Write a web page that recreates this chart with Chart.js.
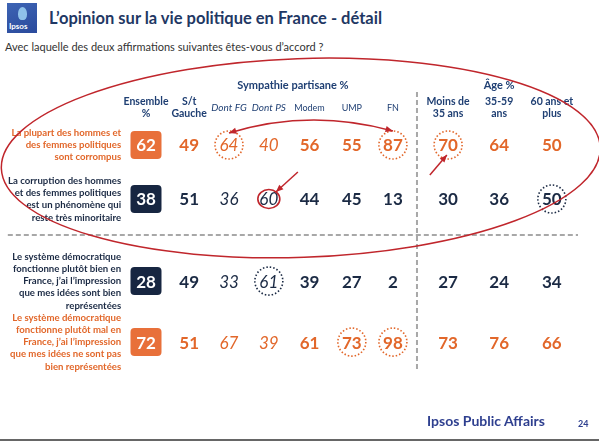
<!DOCTYPE html>
<html lang="fr">
<head>
<meta charset="UTF-8" />
<title>L'opinion sur la vie politique en France - détail</title>
<script src="https://cdn.jsdelivr.net/npm/chart.js@4.4.0/dist/chart.umd.min.js"></script>
<style>
  body { margin: 0; background: #fff; font-family: Lato, "Open Sans", sans-serif; }
  #slide { position: relative; width: 599px; height: 446px; overflow: hidden; background: #fff; }
  #logo { position: absolute; left: 7px; top: 3px; width: 30px; height: 30px;
          background: linear-gradient(160deg, #3d64b4, #2a4a9c); }
  #logo .blob { position: absolute; left: 11px; top: 4px; width: 9px; height: 13px;
          background: #8fc2ea; border-radius: 50% 50% 40% 40%; }
  #logo span { position: absolute; left: 2px; bottom: 2px; color: #fff; font-size: 8px; font-weight: bold; }
  #title { position: absolute; left: 49px; top: 8px; font-size: 16.5px; font-weight: bold; color: #1f3864; }
  #subtitle { position: absolute; left: 5px; top: 40px; font-size: 11px; color: #333; }
  #footer { position: absolute; left: 427px; top: 412px; font-size: 14px; font-weight: bold; color: #2e3f8f; }
  #page { position: absolute; left: 578px; top: 418px; font-size: 9px; font-weight: bold; color: #2e3f8f; }
  #rule { position: absolute; left: 0; top: 439px; width: 599px; height: 2px; background: #666; }
  canvas { position: absolute; left: 0; top: 0; }
</style>
</head>
<body>
<div id="slide">
  <div id="logo"><div class="blob"></div><span>Ipsos</span></div>
  <div id="title">L’opinion sur la vie politique en France - détail</div>
  <div id="subtitle">Avec laquelle des deux affirmations suivantes êtes-vous d’accord ?</div>
  <canvas id="tableChart" width="599" height="446"></canvas>
  <div id="footer">Ipsos Public Affairs</div>
  <div id="page">24</div>
  <div id="rule"></div>
</div>
<script>
// Colonnes et valeurs (%)
const columns = ['Ensemble %', 'S/t Gauche', 'Dont FG', 'Dont PS', 'Modem', 'UMP', 'FN',
                 'Moins de 35 ans', '35-59 ans', '60 ans et plus'];
const corrompus   = [62, 49, 64, 40, 56, 55, 87, 70, 64, 50];
const minoritaire = [38, 51, 36, 60, 44, 45, 13, 30, 36, 50];
const fonctionneBien = [28, 49, 33, 61, 39, 27, 2, 27, 24, 34];
const fonctionneMal  = [72, 51, 67, 39, 61, 73, 98, 73, 76, 66];

const rowLabels = [
  ['La plupart des hommes et', 'des femmes politiques', 'sont corrompus'],
  ['La corruption des hommes', 'et des femmes politiques', 'est un phénomène qui', 'reste très minoritaire'],
  ['Le système démocratique', 'fonctionne plutôt bien en', 'France, j’ai l’impression', 'que mes idées sont bien', 'représentées'],
  ['Le système démocratique', 'fonctionne plutôt mal en', 'France, j’ai l’impression', 'que mes idées ne sont pas', 'bien représentées']
];
const colHeaders = [['Ensemble', '%'], ['S/t', 'Gauche'], ['Dont FG'], ['Dont PS'], ['Modem'], ['UMP'], ['FN'],
                    ['Moins de', '35 ans'], ['35-59', 'ans'], ['60 ans et', 'plus']];

// mise en page (unités des échelles)
const colPos = [0, 1.04, 2, 2.96, 3.94, 4.96, 5.95, 7.28, 8.51, 9.78];
const rowPos = [0, 1, 2.52, 3.65];

const ORANGE = '#e2672a';
const NAVY = '#1b2a44';
const BLUE = '#1f3f73';
const RED = '#c0262c';
const rowColors = [ORANGE, NAVY, NAVY, ORANGE];

// cercles de mise en évidence [ligne, colonne, couleur, pointillé]
const highlights = [
  [0, 2, ORANGE, true], [0, 6, ORANGE, true], [0, 7, ORANGE, true],
  [1, 3, RED, false], [1, 9, NAVY, true], [2, 3, NAVY, true],
  [3, 5, ORANGE, true], [3, 6, ORANGE, true]
];

const rows = [corrompus, minoritaire, fonctionneBien, fonctionneMal];

const tablePlugin = {
  id: 'tablePlugin',
  afterDatasetsDraw(chart) {
    const ctx = chart.ctx;
    const xs = chart.scales.x, ys = chart.scales.y;
    const px = u => xs.getPixelForValue(u);
    const py = v => ys.getPixelForValue(v);
    ctx.save();

    // séparateurs
    ctx.strokeStyle = '#a8a8a8';
    ctx.lineWidth = 2;
    ctx.setLineDash([5, 3]);
    ctx.beginPath();
    ctx.moveTo(px(-3.33), py(1.667)); ctx.lineTo(px(10.41), py(1.667));
    ctx.moveTo(px(6.53), py(-0.98)); ctx.lineTo(px(6.53), py(4.17));
    ctx.stroke();
    ctx.setLineDash([]);

    // en-têtes
    ctx.textAlign = 'center';
    ctx.textBaseline = 'middle';
    ctx.fillStyle = BLUE;
    ctx.font = 'bold 11px Lato';
    ctx.fillText('Sympathie partisane %', px(3.54), py(-1.11));
    ctx.fillText('Âge %', px(8.51), py(-1.11));
    colHeaders.forEach((lines, j) => {
      if (j === 2 || j === 3) ctx.font = 'italic 10px Lato';
      else if (j >= 4 && j <= 6) ctx.font = '9px Lato';
      else ctx.font = 'bold 10.5px Lato';
      const yc = py(-0.685);
      lines.forEach((t, k) => {
        ctx.fillText(t, px(colPos[j]), yc + (k - (lines.length - 1) / 2) * 12);
      });
    });

    // libellés des lignes
    ctx.textAlign = 'right';
    ctx.font = 'bold 9.6px Lato';
    rowLabels.forEach((lines, i) => {
      ctx.fillStyle = rowColors[i];
      const yc = py(rowPos[i]);
      lines.forEach((t, k) => {
        ctx.fillText(t, px(-0.6), yc + (k - (lines.length - 1) / 2) * 12.3);
      });
    });

    // valeurs
    ctx.textAlign = 'center';
    chart.data.datasets.forEach((ds, i) => {
      const meta = chart.getDatasetMeta(i);
      meta.data.forEach((pt, j) => {
        const v = ds.data[j].v;
        if (j === 0) {
          ctx.fillStyle = rowColors[i] === ORANGE ? '#e8703a' : '#172641';
          ctx.beginPath();
          ctx.roundRect(pt.x - 15.5, pt.y - 14, 31, 28, 4);
          ctx.fill();
          ctx.fillStyle = '#fff';
          ctx.font = 'bold 17px Lato';
        } else {
          ctx.fillStyle = rowColors[i];
          ctx.font = (j === 2 || j === 3) ? 'italic 17px Lato' : 'bold 17px Lato';
        }
        ctx.fillText(String(v), pt.x, pt.y + 1);
      });
    });

    // cercles
    highlights.forEach(([r, c, col, dotted]) => {
      const pt = chart.getDatasetMeta(r).data[c];
      ctx.strokeStyle = col;
      ctx.lineWidth = 1.6;
      ctx.beginPath();
      if (dotted) {
        ctx.setLineDash([1.5, 2]);
        ctx.arc(pt.x, pt.y, 14, 0, Math.PI * 2);
      } else {
        ctx.setLineDash([]);
        ctx.ellipse(pt.x, pt.y, 11, 9.5, 0, 0, Math.PI * 2);
      }
      ctx.stroke();
    });
    ctx.setLineDash([]);

    // ellipse rouge
    ctx.strokeStyle = RED;
    ctx.lineWidth = 1.5;
    ctx.beginPath();
    ctx.ellipse(px(3.73), py(0.24), px(7.22) - px(0), py(1.84) - py(0), -0.035, 0, Math.PI * 2);
    ctx.stroke();

    // flèches
    const head = (x, y, ang) => {
      ctx.beginPath();
      ctx.moveTo(x, y);
      ctx.lineTo(x - 8 * Math.cos(ang - 0.4), y - 8 * Math.sin(ang - 0.4));
      ctx.lineTo(x - 8 * Math.cos(ang + 0.4), y - 8 * Math.sin(ang + 0.4));
      ctx.closePath();
      ctx.fillStyle = RED;
      ctx.fill();
    };
    const ax0 = px(2.0), ay0 = py(-0.222), acx = px(3.95), acy = py(-0.685), ax1 = px(5.95), ay1 = py(-0.26);
    ctx.beginPath();
    ctx.moveTo(ax0, ay0); ctx.quadraticCurveTo(acx, acy, ax1, ay1);
    ctx.stroke();
    head(ax0, ay0, Math.atan2(ay0 - acy, ax0 - acx));
    head(ax1, ay1, Math.atan2(ay1 - acy, ax1 - acx));
    [[3.66, 0.5, 3.13, 0.87], [6.84, 0.556, 7.25, 0.185]].forEach(([u0, v0, u1, v1]) => {
      const x0 = px(u0), y0 = py(v0), x1 = px(u1), y1 = py(v1);
      ctx.beginPath(); ctx.moveTo(x0, y0); ctx.lineTo(x1, y1); ctx.stroke();
      head(x1, y1, Math.atan2(y1 - y0, x1 - x0));
    });

    ctx.restore();
  }
};

const datasets = rows.map((vals, i) => ({
  label: rowLabels[i].join(' '),
  data: vals.map((v, j) => ({ x: colPos[j], y: rowPos[i], v: v })),
  pointRadius: 0
}));

new Chart(document.getElementById('tableChart'), {
  type: 'scatter',
  data: { datasets: datasets },
  options: {
    responsive: false,
    animation: false,
    layout: { padding: 0 },
    scales: {
      x: { type: 'linear', display: false, min: -3.518, max: 10.916 },
      y: { type: 'linear', display: false, reverse: true, min: -2.685, max: 5.574 }
    },
    plugins: { legend: { display: false }, tooltip: { enabled: false } }
  },
  plugins: [tablePlugin]
});
</script>
</body>
</html>
